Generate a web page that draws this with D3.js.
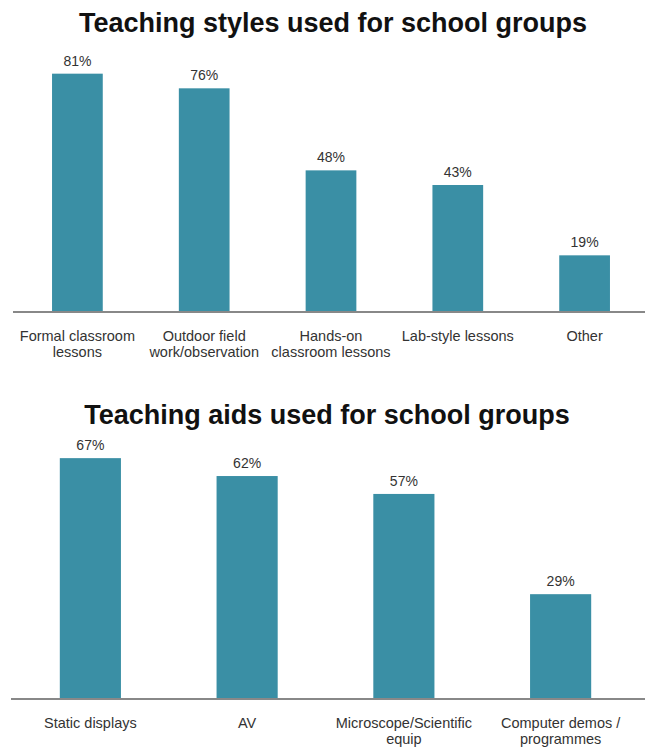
<html>
<head>
<style>
  body { margin: 0; background: #fff; }
  text { font-family: "Liberation Sans", Arial, sans-serif; }
</style>
<script src="https://d3js.org/d3.v7.min.js"></script>
</head>
<body>
<div id="chart"></div>
<script>
// top chart
const styleTitle = "Teaching styles used for school groups";
const styleCats = [["Formal classroom", "lessons"], ["Outdoor field", "work/observation"], ["Hands-on", "classroom lessons"], ["Lab-style lessons"], ["Other"]];
const styleValues = [81, 76, 48, 43, 19];

// bottom chart
const aidTitle = "Teaching aids used for school groups";
const aidCats = [["Static displays"], ["AV"], ["Microscope/Scientific", "equip"], ["Computer demos /", "programmes"]];
const aidValues = [67, 62, 57, 29];

const barColor = "#3a8fa5";

const svg = d3.select("#chart").append("svg")
    .attr("width", 645)
    .attr("height", 749);

function drawChart(cfg) {
    const g = svg.append("g");

    g.append("text")
        .attr("x", cfg.titleX)
        .attr("y", cfg.titleY)
        .attr("text-anchor", "middle")
        .style("font-size", "27px")
        .style("font-weight", "bold")
        .style("fill", "#111")
        .text(cfg.title);

    const x = d3.scaleBand()
        .domain(d3.range(cfg.values.length))
        .range([cfg.left, cfg.right])
        .paddingInner(cfg.pad)
        .paddingOuter(cfg.pad / 2);

    const y = d3.scaleLinear()
        .domain([0, 100])
        .range([cfg.base, cfg.base - cfg.pxPer * 100]);

    g.selectAll("rect.bar")
        .data(cfg.values)
        .enter().append("rect")
        .attr("class", "bar")
        .attr("x", (d, i) => x(i))
        .attr("y", d => y(d))
        .attr("width", x.bandwidth())
        .attr("height", d => y(0) - y(d))
        .style("fill", barColor);

    g.selectAll("text.val")
        .data(cfg.values)
        .enter().append("text")
        .attr("class", "val")
        .attr("x", (d, i) => x(i) + x.bandwidth() / 2)
        .attr("y", d => y(d) - 8)
        .attr("text-anchor", "middle")
        .style("font-size", "14px")
        .style("fill", "#333")
        .text(d => d + "%");

    g.append("line")
        .attr("x1", cfg.axisLeft)
        .attr("x2", 645)
        .attr("y1", cfg.base + 1)
        .attr("y2", cfg.base + 1)
        .style("stroke", "#888")
        .style("stroke-width", 2);

    const labels = g.selectAll("text.cat")
        .data(cfg.cats)
        .enter().append("text")
        .attr("class", "cat")
        .attr("text-anchor", "middle")
        .style("font-size", "14.5px")
        .style("fill", "#333");
    labels.each(function(d, i) {
        d3.select(this).selectAll("tspan")
            .data(d)
            .enter().append("tspan")
            .attr("x", x(i) + x.bandwidth() / 2)
            .attr("y", (t, j) => cfg.base + 30 + j * 16)
            .text(t => t);
    });
}

drawChart({
    title: styleTitle, titleX: 333, titleY: 32,
    cats: styleCats, values: styleValues,
    left: 14, right: 648, pad: 0.6, base: 311, pxPer: 2.93, axisLeft: 13
});

drawChart({
    title: aidTitle, titleX: 327, titleY: 424,
    cats: aidCats, values: aidValues,
    left: 12, right: 639, pad: 0.61, base: 698, pxPer: 3.58, axisLeft: 11
});
</script>
</body>
</html>
